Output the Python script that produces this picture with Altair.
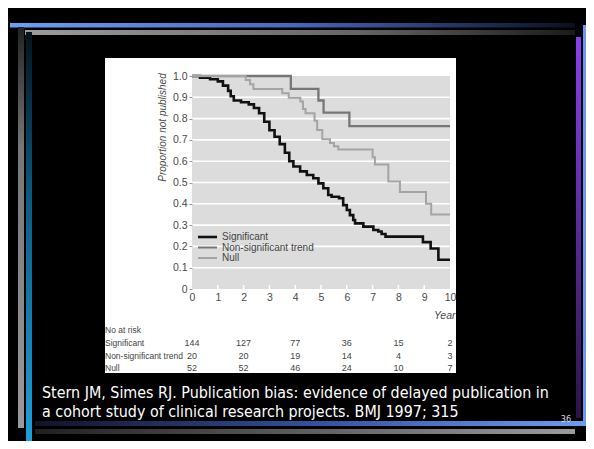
import altair as alt
import pandas as pd

# ---------------- data ----------------
series_names = ["Significant", "Non-significant trend", "Null"]

sig_t = [0, 0.31, 0.7, 1.0, 1.2, 1.4, 1.5, 1.62, 1.9, 2.2, 2.4, 2.6, 2.8, 3.0, 3.2, 3.4,
         3.6, 3.77, 3.93, 4.19, 4.45, 4.7, 4.9, 5.09, 5.28, 5.41, 5.7, 5.86, 6.0, 6.12,
         6.25, 6.32, 6.64, 7.03, 7.22, 7.35, 7.5, 8.95, 9.25, 9.55, 10]
sig_v = [1.0, 0.992, 0.985, 0.975, 0.955, 0.93, 0.905, 0.885, 0.877, 0.867, 0.85, 0.825,
         0.785, 0.745, 0.715, 0.68, 0.64, 0.6, 0.575, 0.552, 0.535, 0.52, 0.496, 0.473,
         0.441, 0.433, 0.426, 0.394, 0.371, 0.347, 0.324, 0.308, 0.293, 0.277, 0.27,
         0.258, 0.246, 0.22, 0.19, 0.137, 0.137]

ns_t = [0, 3.83, 4.9, 5.1, 6.1, 10]
ns_v = [1.0, 0.94, 0.885, 0.828, 0.765, 0.765]

null_t = [0, 2.08, 2.25, 2.38, 3.5, 3.75, 4.2, 4.3, 4.4, 4.75, 4.85, 5.05, 5.35, 5.5,
          5.67, 7.0, 7.09, 7.61, 8.06, 9.07, 9.27, 10]
null_v = [1.0, 0.981, 0.961, 0.939, 0.919, 0.898, 0.88, 0.845, 0.825, 0.79, 0.746, 0.703,
          0.685, 0.67, 0.655, 0.618, 0.585, 0.505, 0.455, 0.4, 0.35, 0.35]

x_ticks = [0, 1, 2, 3, 4, 5, 6, 7, 8, 9, 10]
y_ticks = [0, 0.1, 0.2, 0.3, 0.4, 0.5, 0.6, 0.7, 0.8, 0.9, 1.0]
grid_levels = [0.1, 0.2, 0.3, 0.4, 0.5, 0.6, 0.7, 0.8, 0.9]

risk_years = [0, 2, 4, 6, 8, 10]
risk_rows = ["Significant", "Non-significant trend", "Null"]
risk_sig = [144, 127, 77, 36, 15, 2]
risk_ns = [20, 20, 19, 14, 4, 3]
risk_null = [52, 52, 46, 24, 10, 7]
risk_header = "No at risk"

y_title = "Proportion not published"
x_title = "Year"
citation = ["Stern JM, Simes RJ. Publication bias: evidence of delayed publication in",
            "a cohort study of clinical research projects. BMJ 1997; 315"]
slide_number = "36"

# ---------------- styling ----------------
W, H = 258, 213
NARROW = "Liberation Sans Narrow, Arial Narrow, Liberation Sans, sans-serif"
SLIDE_FONT = "DejaVu Sans Condensed, Liberation Sans, sans-serif"
line_colors = ["#111111", "#767676", "#a4a4a4"]
line_widths = [2.6, 2.0, 2.0]

rows = []
for name, ts, vs in [(series_names[0], sig_t, sig_v),
                     (series_names[1], ns_t, ns_v),
                     (series_names[2], null_t, null_v)]:
    for t, v in zip(ts, vs):
        rows.append({"t": t, "v": v, "series": name})
curves = pd.DataFrame(rows)

xscale = alt.Scale(domain=[0, 10], nice=False, zero=False)
yscale = alt.Scale(domain=[0, 1], nice=False)

xaxis = alt.Axis(values=x_ticks, format="d", domain=False, ticks=False, grid=False,
                 labelColor="#4a4a4a", labelFont=NARROW, labelFontSize=10.5,
                 labelPadding=3, labelFlush=False, labelOverlap=False,
                 title=x_title, titleX=263, titleY=26, titleAlign="right",
                 titleBaseline="middle", titleFontStyle="italic",
                 titleFontWeight="normal", titleColor="#4a4a4a", titleFont=NARROW,
                 titleFontSize=10.5, zindex=1)
yaxis = alt.Axis(values=y_ticks,
                 labelExpr="datum.value == 0 ? '0' : format(datum.value, '.1f')",
                 domain=False, ticks=True, tickSize=3, tickColor="#999999",
                 grid=False, labelColor="#4a4a4a", labelFont=NARROW, labelFontSize=10.5,
                 labelPadding=2, labelFlush=False, labelOverlap=False,
                 title=y_title, titleX=-30, titleY=51, titleAngle=270,
                 titleAlign="center", titleBaseline="middle", titleFontStyle="italic",
                 titleFontWeight="normal", titleColor="#4a4a4a", titleFont=NARROW,
                 titleFontSize=10, zindex=1)

one = pd.DataFrame({"k": [0]})


def grad(stops, vertical=False):
    return alt.LinearGradient(
        gradient="linear",
        stops=[alt.GradientStop(color=c, offset=o) for o, c in stops],
        x1=0, x2=0 if vertical else 1, y1=0, y2=1 if vertical else 0)


OX, OY = 192, 76  # page position of the plot origin


def P(x0, x1, y0, y1, fill):
    # slide frame decoration, placed in page pixels
    return alt.Chart(one).mark_rect(color=fill).encode(
        x=alt.value(x0 - OX), x2=alt.value(x1 - OX),
        y=alt.value(y0 - OY), y2=alt.value(y1 - OY))


frame = [
    P(10, 575, 23, 27.5, grad([(0, "#6d9ef5"), (0.5, "#4669bd"), (1, "#0a0f22")])),
    P(25, 575, 30, 35, grad([(0, "#9c9c9c"), (0.6, "#666666"), (1, "#1a1a1a")])),
    P(583, 589, 25, 425, "#6a9af0"),
    P(576, 581, 37, 418, grad([(0, "#8a40ee"), (1, "#2a1545")], vertical=True)),
    P(18, 24, 27, 428, grad([(0, "#222222"), (0.3, "#777777"), (1, "#9a9a9a")], vertical=True)),
    P(26, 32, 32, 445, grad([(0, "#05141c"), (0.4, "#0c5a80"), (1, "#1fa0dc")], vertical=True)),
    P(35, 594, 421, 426, grad([(0, "#101428"), (0.5, "#3450a0"), (1, "#6d9ef5")])),
    P(35, 575, 429, 434, grad([(0, "#202020"), (1, "#9c9c9c")])),
    P(105, 456, 58, 373, "white"),
]

plot_bg = alt.Chart(pd.DataFrame({"x0": [0], "x1": [10], "y0": [0], "y1": [1]})).mark_rect(
    color="#dcdcdc").encode(
    x=alt.X("x0:Q", scale=xscale, axis=xaxis), x2="x1",
    y=alt.Y("y0:Q", scale=yscale, axis=yaxis), y2="y1")

grid = alt.Chart(pd.DataFrame({"g": grid_levels})).mark_rule(
    color="white", strokeWidth=1.6).encode(
    y=alt.Y("g:Q", scale=yscale, axis=yaxis), x=alt.value(0), x2=alt.value(W))

bottom_ticks = alt.Chart(pd.DataFrame({"yr": x_ticks[1:-1]})).mark_rule(
    color="white", strokeWidth=1.5).encode(
    x=alt.X("yr:Q", scale=xscale, axis=xaxis), y=alt.value(H - 4), y2=alt.value(H))

lines = alt.Chart(curves).mark_line(interpolate="step-after").encode(
    x=alt.X("t:Q", scale=xscale, axis=xaxis),
    y=alt.Y("v:Q", scale=yscale, axis=yaxis),
    color=alt.Color("series:N", scale=alt.Scale(domain=series_names, range=line_colors),
                    legend=None),
    strokeWidth=alt.StrokeWidth("series:N",
                                scale=alt.Scale(domain=series_names, range=line_widths),
                                legend=None),
    order="t:Q",
)

# legend drawn inside the plot (key lines + labels)
legend_layers = []
for i, name in enumerate(series_names):
    ypix = [237, 247.5, 258][i] - OY
    legend_layers.append(alt.Chart(one).mark_rule(
        color=line_colors[i], strokeWidth=line_widths[i]).encode(
        x=alt.value(198 - OX), x2=alt.value(217 - OX), y=alt.value(ypix)))
    legend_layers.append(alt.Chart(one).mark_text(
        align="left", baseline="middle", font=NARROW, fontSize=10,
        color="#444444", text=name).encode(
        x=alt.value(222 - OX), y=alt.value(ypix)))

# number-at-risk table
risk_layers = []
header = alt.Chart(one).mark_text(align="left", baseline="middle", font=NARROW,
                                  fontSize=8.5, color="#444444", text=risk_header).encode(
    x=alt.value(105 - OX), y=alt.value(330 - OY))
risk_layers.append(header)
for i, (name, vals) in enumerate(zip(risk_rows, [risk_sig, risk_ns, risk_null])):
    ypix = [343, 356, 368][i] - OY
    lab = alt.Chart(one).mark_text(align="left", baseline="middle", font=NARROW,
                                   fontSize=8.5, color="#444444", text=name).encode(
        x=alt.value(105 - OX), y=alt.value(ypix))
    nums = alt.Chart(pd.DataFrame({"yr": risk_years, "n": vals})).mark_text(
        align="center", baseline="middle", font=NARROW, fontSize=9,
        color="#444444").encode(
        x=alt.X("yr:Q", scale=xscale, axis=xaxis), y=alt.value(ypix), text="n:Q")
    risk_layers += [lab, nums]

cite_layers = []
for i, line in enumerate(citation):
    cite_layers.append(alt.Chart(one).mark_text(
        align="left", baseline="alphabetic", font=SLIDE_FONT, fontSize=15.9,
        color="white", text=line).encode(
        x=alt.value(42 - OX), y=alt.value([398, 417][i] - OY)))
cite_layers.append(alt.Chart(one).mark_text(
    align="center", baseline="middle", font=SLIDE_FONT, fontSize=9,
    color="#dddddd", text=slide_number).encode(
    x=alt.value(566 - OX), y=alt.value(419 - OY)))

chart = alt.layer(*frame, plot_bg, grid, bottom_ticks, lines, *legend_layers,
                  *risk_layers, *cite_layers).properties(
    width=W, height=H,
    autosize=alt.AutoSizeParams(type="none"),
    padding={"left": 184, "top": 68, "right": 136, "bottom": 152},
    background="black",
).configure_view(stroke=None, fill=None)

chart.save("out.html", embed_options={"renderer": "svg", "actions": False})
